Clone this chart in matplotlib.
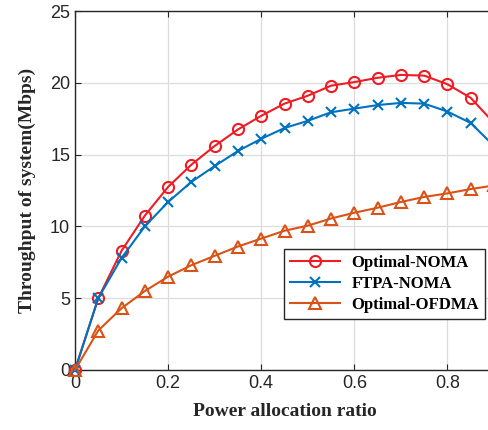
import numpy as np
import matplotlib.pyplot as plt

# power allocation ratio
ratio = [0.0, 0.05, 0.10, 0.15, 0.20, 0.25, 0.30, 0.35, 0.40, 0.45, 0.50,
         0.55, 0.60, 0.65, 0.70, 0.75, 0.80, 0.85, 0.90]

# throughput in Mbps
opt_noma = [0.0, 5.0, 8.3, 10.75, 12.75, 14.3, 15.6, 16.75, 17.7, 18.55, 19.1,
            19.8, 20.05, 20.35, 20.55, 20.5, 19.9, 18.95, 17.2]
ftpa_noma = [0.0, 5.0, 7.8, 10.0, 11.7, 13.1, 14.2, 15.25, 16.1, 16.85, 17.35,
             17.95, 18.2, 18.45, 18.6, 18.55, 18.0, 17.2, 15.6]
opt_ofdma = [0.0, 2.75, 4.3, 5.5, 6.5, 7.3, 7.95, 8.6, 9.15, 9.7, 10.05,
             10.55, 10.95, 11.3, 11.7, 12.05, 12.3, 12.6, 12.85]

xticks = [0, 0.2, 0.4, 0.6, 0.8]
yticks = [0, 5, 10, 15, 20, 25]

fig = plt.figure(figsize=(4.88, 4.30), dpi=100)
ax = fig.add_axes([75 / 488, 60 / 430, 419 / 488, 359 / 430])

ax.plot(ratio, opt_noma, color="#EE1C25", lw=1.5, marker="o", ms=8,
        mfc="none", mew=1.5, label="Optimal-NOMA", clip_on=False, zorder=3)
ax.plot(ratio, ftpa_noma, color="#0072BD", lw=1.5, marker="x", ms=7,
        mew=1.5, label="FTPA-NOMA", clip_on=False, zorder=3)
ax.plot(ratio, opt_ofdma, color="#D95319", lw=1.5, marker="^", ms=9,
        mfc="none", mew=1.5, label="Optimal-OFDMA", clip_on=False, zorder=3)

ax.set_xlim(0, 0.9)
ax.set_ylim(0, 25)
ax.set_xticks(xticks)
ax.set_yticks(yticks)
ax.set_xticklabels(["0", "0.2", "0.4", "0.6", "0.8"])
ax.tick_params(direction="in", length=4, labelsize=13, colors="#262626",
               top=True, right=True)
for lab in ax.get_xticklabels() + ax.get_yticklabels():
    lab.set_family("Liberation Sans")
ax.grid(True, color="#DCDCDC", lw=0.9)
ax.set_axisbelow(True)
for s in ax.spines.values():
    s.set_color("#262626")
    s.set_linewidth(1.0)

ax.set_xlabel("Power allocation ratio", fontfamily="Liberation Serif",
              fontweight="bold", fontsize=14, color="#262626", labelpad=8)
ax.set_ylabel("Throughput of system(Mbps)", fontfamily="Liberation Serif",
              fontweight="bold", fontsize=14, color="#262626", labelpad=10)

leg = ax.legend(loc="upper left", bbox_to_anchor=(209 / 419, 121 / 359),
                prop={"family": "Liberation Serif", "weight": "bold", "size": 12},
                fancybox=False, framealpha=1, edgecolor="#262626",
                handlelength=3.0, handletextpad=0.7, borderpad=0.35,
                labelspacing=0.3, borderaxespad=0)
leg.get_frame().set_linewidth(1.0)

fig.savefig("out.png", dpi=100)
